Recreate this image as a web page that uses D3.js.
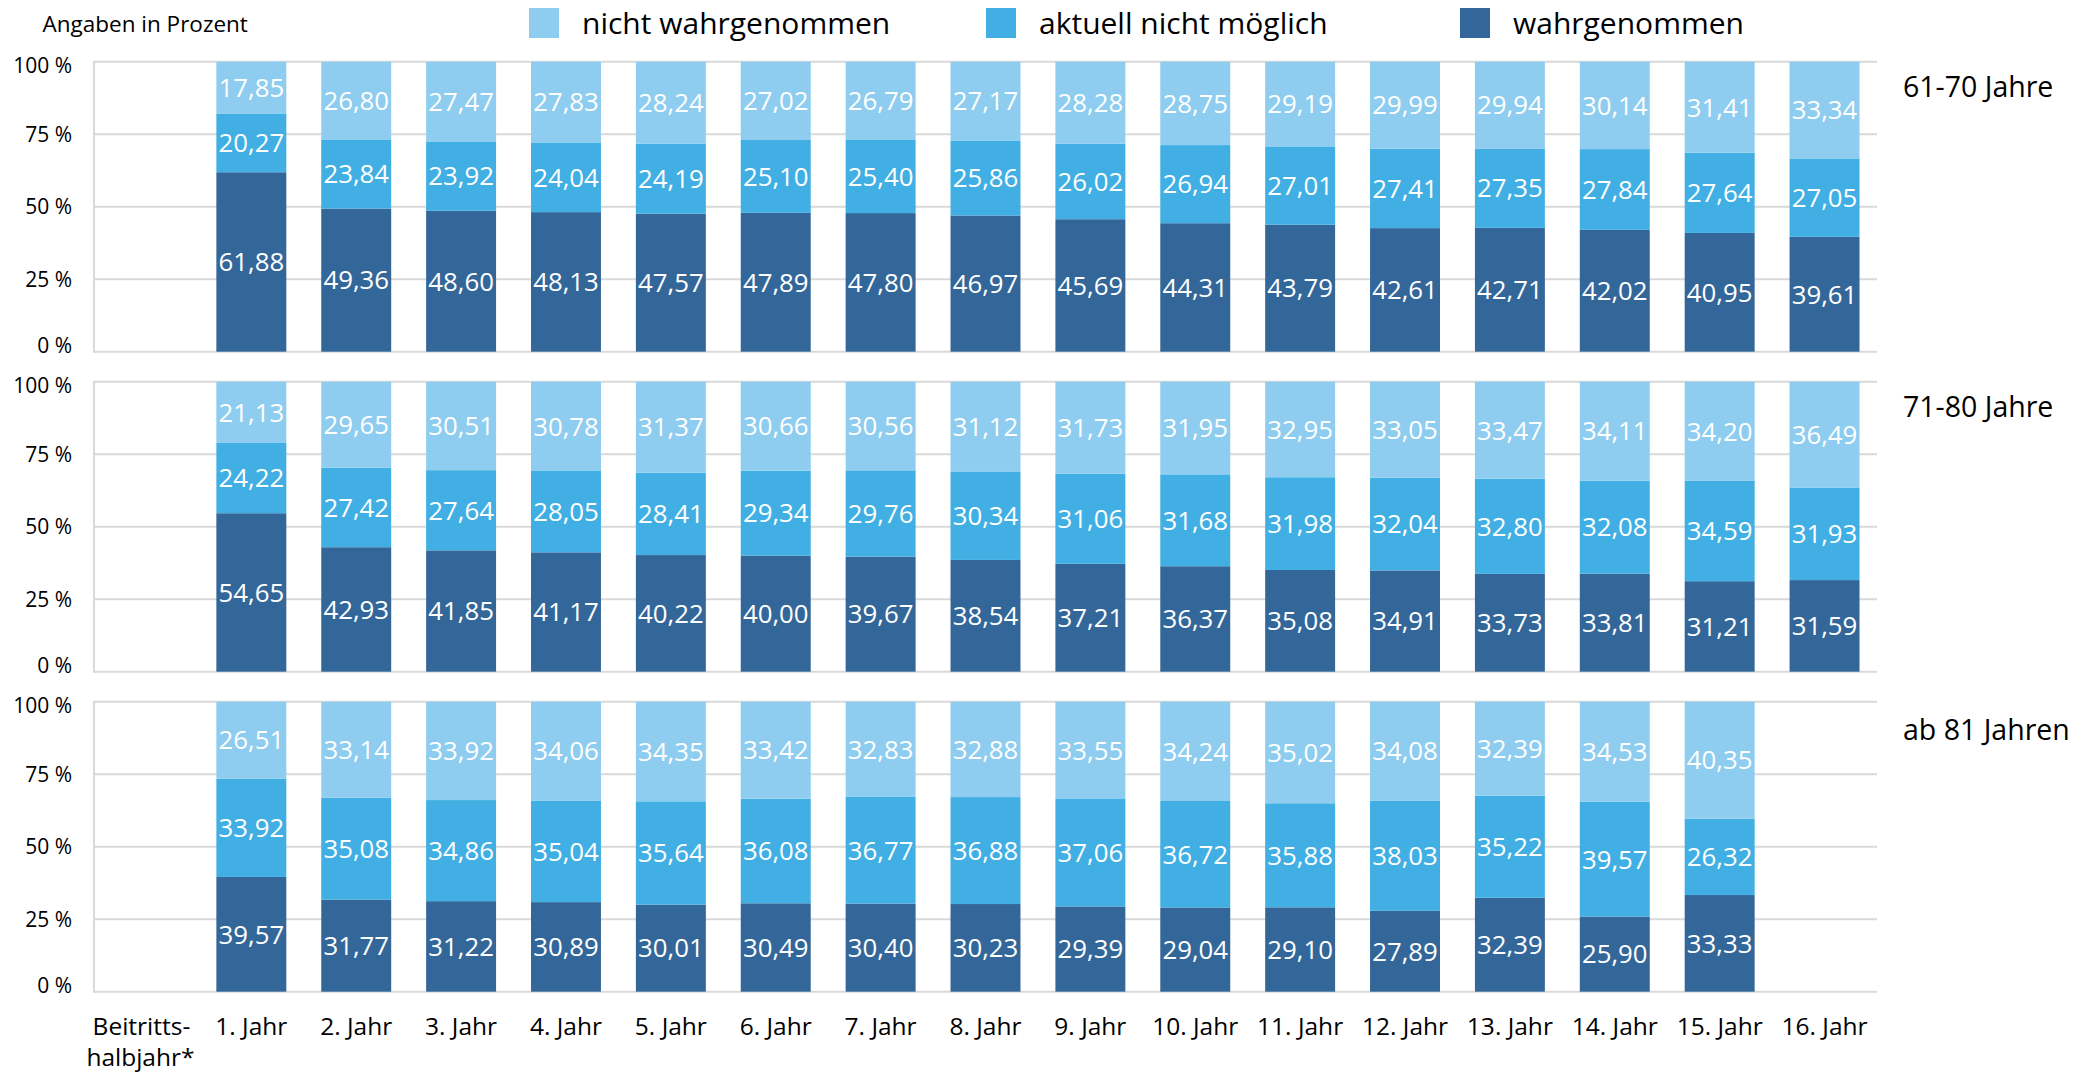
<!DOCTYPE html>
<html><head><meta charset="utf-8">
<script src="https://cdn.jsdelivr.net/npm/d3@7"></script>
<style>
html,body{margin:0;padding:0;background:#fff;}
svg text{font-family:"Open Sans","Noto Sans",sans-serif;}
</style></head>
<body><svg id="c" width="2090" height="1074"></svg>
<script>
const categories = ["Beitrittshalbjahr*","1. Jahr","2. Jahr","3. Jahr","4. Jahr","5. Jahr","6. Jahr","7. Jahr","8. Jahr","9. Jahr","10. Jahr","11. Jahr","12. Jahr","13. Jahr","14. Jahr","15. Jahr","16. Jahr"];
const seriesNames = ["wahrgenommen","aktuell nicht möglich","nicht wahrgenommen"];
const legendOrder = ["nicht wahrgenommen","aktuell nicht möglich","wahrgenommen"];
const panelTitles = ["61-70 Jahre","71-80 Jahre","ab 81 Jahren"];
const yTicks = [0,25,50,75,100];

// Panel 1: 61-70 Jahre (Beitrittshalbjahr has no bar)
const p1_wahr    = [null,61.88,49.36,48.60,48.13,47.57,47.89,47.80,46.97,45.69,44.31,43.79,42.61,42.71,42.02,40.95,39.61];
const p1_aktuell = [null,20.27,23.84,23.92,24.04,24.19,25.10,25.40,25.86,26.02,26.94,27.01,27.41,27.35,27.84,27.64,27.05];
const p1_nicht   = [null,17.85,26.80,27.47,27.83,28.24,27.02,26.79,27.17,28.28,28.75,29.19,29.99,29.94,30.14,31.41,33.34];
// Panel 2: 71-80 Jahre
const p2_wahr    = [null,54.65,42.93,41.85,41.17,40.22,40.00,39.67,38.54,37.21,36.37,35.08,34.91,33.73,33.81,31.21,31.59];
const p2_aktuell = [null,24.22,27.42,27.64,28.05,28.41,29.34,29.76,30.34,31.06,31.68,31.98,32.04,32.80,32.08,34.59,31.93];
const p2_nicht   = [null,21.13,29.65,30.51,30.78,31.37,30.66,30.56,31.12,31.73,31.95,32.95,33.05,33.47,34.11,34.20,36.49];
// Panel 3: ab 81 Jahren
const p3_wahr    = [null,39.57,31.77,31.22,30.89,30.01,30.49,30.40,30.23,29.39,29.04,29.10,27.89,32.39,25.90,33.33,null];
const p3_aktuell = [null,33.92,35.08,34.86,35.04,35.64,36.08,36.77,36.88,37.06,36.72,35.88,38.03,35.22,39.57,26.32,null];
const p3_nicht   = [null,26.51,33.14,33.92,34.06,34.35,33.42,32.83,32.88,33.55,34.24,35.02,34.08,32.39,34.53,40.35,null];

const panels = [
  {title: panelTitles[0], series: [p1_wahr, p1_aktuell, p1_nicht]},
  {title: panelTitles[1], series: [p2_wahr, p2_aktuell, p2_nicht]},
  {title: panelTitles[2], series: [p3_wahr, p3_aktuell, p3_nicht]}
];

const colors = {"wahrgenommen":"#346799","aktuell nicht möglich":"#41afe3","nicht wahrgenommen":"#8ecdef"};
const gridColor = "#d9d9d9";

const svg = d3.select("#c");
const plotLeft = 94, plotRight = 1877;
const panelTops = [61.7, 381.7, 701.7], panelH = 290;
const titleOffsets = [35.5, 35.5, 38.5];

const x = d3.scaleBand().domain(categories).range([plotLeft, plotRight]).paddingInner(0.333).paddingOuter(0.1667);
const fmt = v => d3.format(".2f")(v).replace(".", ",");

panels.forEach((p, pi) => {
  const top = panelTops[pi];
  const y = d3.scaleLinear().domain([0,100]).range([top + panelH, top]);
  const g = svg.append("g");
  g.selectAll("line.grid").data(yTicks).join("line")
    .attr("x1", plotLeft).attr("x2", plotRight)
    .attr("y1", d => y(d)).attr("y2", d => y(d))
    .attr("stroke", gridColor).attr("stroke-width", 2);
  g.append("line").attr("x1", plotLeft).attr("x2", plotLeft)
    .attr("y1", y(100)-1).attr("y2", y(0)+1)
    .attr("stroke", gridColor).attr("stroke-width", 2);
  g.selectAll("text.yt").data(yTicks).join("text")
    .attr("x", 72).attr("y", d => y(d) + (d === 0 ? -6 : d === 100 ? 4 : 0))
    .attr("dy", "0.35em").attr("text-anchor", "end")
    .attr("font-size", 21).attr("fill", "#000")
    .text(d => d + " %");

  const rows = categories.map((c, i) => {
    const r = {cat: c};
    seriesNames.forEach((s, si) => r[s] = p.series[si][i]);
    return r;
  }).filter(r => r[seriesNames[0]] != null);
  const stack = d3.stack().keys(seriesNames)(rows);
  stack.forEach(layer => {
    const key = layer.key;
    g.selectAll(null).data(layer).join("rect")
      .attr("x", d => x(d.data.cat)).attr("width", x.bandwidth())
      .attr("y", d => y(d[1])).attr("height", d => y(d[0]) - y(d[1]))
      .attr("fill", colors[key]);
    g.selectAll(null).data(layer).join("text")
      .attr("x", d => x(d.data.cat) + x.bandwidth()/2)
      .attr("y", d => y((d[0]+d[1])/2))
      .attr("dy", "0.36em").attr("text-anchor", "middle")
      .attr("font-size", 25.8).attr("fill", "#fff")
      .text(d => fmt(d.data[key]));
  });
  svg.append("text").attr("x", 1903).attr("y", top + titleOffsets[pi])
    .attr("font-size", 28.5).attr("fill", "#000").text(p.title);
});

categories.forEach((c, i) => {
  const cx = x(c) + x.bandwidth()/2;
  if (i === 0) {
    const t = svg.append("text").attr("y", 1035).attr("text-anchor","middle").attr("font-size",24.5);
    t.append("tspan").attr("x", cx - 5).text("Beitritts-");
    t.append("tspan").attr("x", cx - 6).attr("dy", 31).text("halbjahr*");
  } else {
    svg.append("text").attr("x", cx).attr("y", 1035).attr("text-anchor","middle").attr("font-size",24.5).text(c);
  }
});

svg.append("text").attr("x", 42.5).attr("y", 31.7).attr("font-size", 22.5).attr("fill","#000").text("Angaben in Prozent");
const legendX = [529, 986, 1460];
legendOrder.forEach((s, i) => {
  svg.append("rect").attr("x", legendX[i]).attr("y", 8).attr("width", 30).attr("height", 30).attr("fill", colors[s]);
  svg.append("text").attr("x", legendX[i] + 53).attr("y", 33.5).attr("font-size", 30).attr("fill","#000").text(s);
});
</script></body></html>
